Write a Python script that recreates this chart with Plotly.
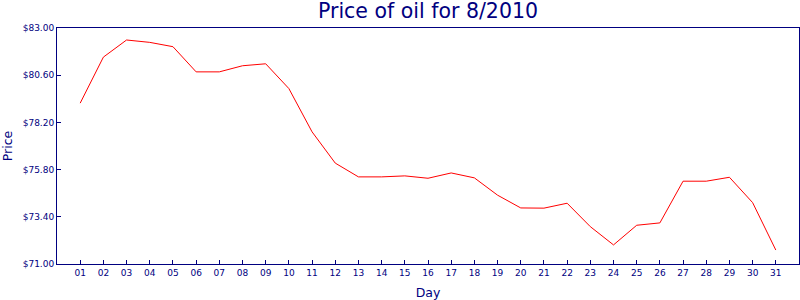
import plotly.graph_objects as go

days = [f"{d:02d}" for d in range(1, 32)]
prices = [79.18, 81.52, 82.39, 82.27, 82.05, 80.77, 80.77, 81.08, 81.18, 79.92,
          77.72, 76.13, 75.43, 75.43, 75.48, 75.36, 75.63, 75.38, 74.50, 73.85,
          73.84, 74.09, 72.90, 71.97, 72.97, 73.09, 75.21, 75.21, 75.41, 74.12, 71.71]
y_ticks = [71.0, 73.4, 75.8, 78.2, 80.6, 83.0]
y_tick_labels = [f"${v:.2f}" for v in y_ticks]

navy = "#000080"
font = "DejaVu Sans"

fig = go.Figure(go.Scatter(x=list(range(len(days))), y=prices, mode="lines",
                           line=dict(color="red", width=1)))

fig.update_layout(
    width=800, height=300,
    margin=dict(l=57, r=1, t=28, b=36),
    paper_bgcolor="white", plot_bgcolor="white",
    showlegend=False,
    font=dict(family=font, color=navy, size=9),
    title=dict(text="Price of oil for 8/2010", x=0.535, xanchor="center",
               y=0.963, yanchor="middle", font=dict(size=20.5, color=navy, family=font)),
)
fig.update_xaxes(
    range=[-1, 31], tickvals=list(range(len(days))), ticktext=days,
    showgrid=False, zeroline=False,
    showline=True, linecolor=navy, linewidth=1, mirror=True,
    ticks="inside", ticklen=4, tickcolor=navy,
    tickfont=dict(size=9, color=navy, family=font),
    title=dict(text="Day", font=dict(size=12.5, color=navy, family=font), standoff=11),
)
fig.update_yaxes(
    range=[71, 83], tickvals=y_ticks, ticktext=y_tick_labels,
    showgrid=False, zeroline=False,
    showline=True, linecolor=navy, linewidth=1, mirror=True,
    ticks="inside", ticklen=4, tickcolor=navy,
    tickfont=dict(size=9, color=navy, family=font),
    title=dict(text="Price", font=dict(size=12.5, color=navy, family=font), standoff=7),
)

fig.write_html("out.html")
